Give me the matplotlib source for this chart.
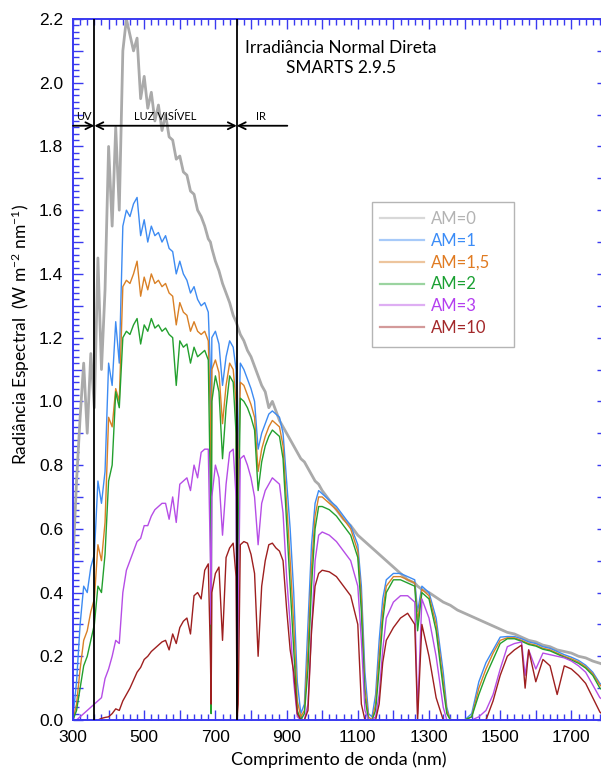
import matplotlib
matplotlib.use("Agg")
import matplotlib.pyplot as plt
from matplotlib.lines import Line2D
from matplotlib.patches import Rectangle
from matplotlib.ticker import MultipleLocator, FuncFormatter

# wavelength grid (nm), shared by every spectrum
wl = [300, 310, 320, 330, 340, 350, 360, 370, 380, 390,
      400, 410, 420, 430, 440, 450, 460, 470, 480, 490,
      500, 510, 520, 530, 540, 550, 560, 570, 580, 590,
      600, 610, 620, 630, 640, 650, 660, 670, 680, 686,
      688, 690, 700, 710, 720, 730, 740, 750, 758, 761,
      764, 770, 780, 790, 800, 810, 820, 830, 840, 850,
      860, 870, 880, 890, 900, 910, 920, 930, 940, 950,
      960, 970, 980, 990, 1000, 1020, 1040, 1060, 1080, 1100,
      1110, 1120, 1130, 1140, 1150, 1160, 1170, 1180, 1200, 1220,
      1240, 1260, 1268, 1280, 1300, 1320, 1340, 1350, 1360, 1380,
      1400, 1420, 1440, 1460, 1480, 1500, 1520, 1540, 1560, 1570,
      1580, 1600, 1620, 1640, 1660, 1680, 1700, 1720, 1740, 1760,
      1780, 1800]

am0 = [0.50, 0.75, 0.95, 1.12, 0.90, 1.15, 0.98, 1.45, 1.10, 1.35,
       1.80, 1.55, 1.86, 1.60, 2.10, 2.20, 2.15, 2.10, 2.14, 1.95,
       2.02, 1.92, 1.97, 1.88, 1.93, 1.85, 1.90, 1.83, 1.82, 1.76,
       1.77, 1.72, 1.71, 1.66, 1.65, 1.60, 1.58, 1.55, 1.51, 1.50,
       1.49, 1.48, 1.44, 1.41, 1.37, 1.34, 1.31, 1.27, 1.25, 1.24,
       1.23, 1.21, 1.19, 1.16, 1.14, 1.11, 1.08, 1.05, 1.03, 0.98,
       1.00, 0.97, 0.94, 0.92, 0.90, 0.88, 0.86, 0.84, 0.82, 0.81,
       0.79, 0.77, 0.75, 0.74, 0.72, 0.69, 0.66, 0.63, 0.61, 0.58,
       0.57, 0.56, 0.55, 0.54, 0.53, 0.52, 0.51, 0.50, 0.48, 0.46,
       0.44, 0.43, 0.42, 0.41, 0.40, 0.385, 0.37, 0.365, 0.36, 0.345,
       0.335, 0.325, 0.315, 0.305, 0.295, 0.285, 0.275, 0.27, 0.26, 0.255,
       0.25, 0.245, 0.235, 0.23, 0.22, 0.215, 0.21, 0.20, 0.195, 0.185,
       0.178, 0.17]

am1 = [0.01, 0.12, 0.30, 0.42, 0.40, 0.48, 0.52, 0.75, 0.68, 0.78,
       1.12, 1.05, 1.25, 1.12, 1.55, 1.60, 1.58, 1.62, 1.64, 1.52,
       1.57, 1.50, 1.55, 1.52, 1.53, 1.50, 1.52, 1.48, 1.47, 1.40,
       1.44, 1.40, 1.38, 1.34, 1.36, 1.32, 1.30, 1.31, 1.28, 1.10,
       0.80, 1.20, 1.22, 1.18, 1.05, 1.14, 1.19, 1.17, 1.10, 0.45,
       0.85, 1.12, 1.10, 1.07, 1.04, 1.00, 0.85, 0.90, 0.93, 0.96,
       0.97, 0.96, 0.95, 0.90, 0.75, 0.60, 0.40, 0.12, 0.02, 0.05,
       0.30, 0.55, 0.68, 0.72, 0.71, 0.69, 0.67, 0.64, 0.61, 0.55,
       0.42, 0.15, 0.02, 0.01, 0.08, 0.25, 0.38, 0.44, 0.46, 0.46,
       0.45, 0.44, 0.34, 0.42, 0.40, 0.32, 0.15, 0.04, 0.0, 0.0,
       0.0, 0.02, 0.12, 0.18, 0.22, 0.26, 0.262, 0.262, 0.255, 0.25,
       0.245, 0.24, 0.23, 0.225, 0.215, 0.205, 0.197, 0.187, 0.172, 0.15,
       0.115, 0.095]

am15 = [0.0, 0.05, 0.16, 0.25, 0.28, 0.34, 0.38, 0.55, 0.50, 0.62,
        0.95, 0.92, 1.04, 1.00, 1.36, 1.38, 1.37, 1.40, 1.44, 1.33,
        1.39, 1.35, 1.40, 1.37, 1.38, 1.36, 1.37, 1.34, 1.33, 1.24,
        1.31, 1.28, 1.27, 1.22, 1.25, 1.22, 1.21, 1.22, 1.19, 0.95,
        0.60, 1.10, 1.13, 1.09, 0.93, 1.05, 1.12, 1.10, 1.00, 0.30,
        0.72, 1.06, 1.05, 1.02, 0.99, 0.95, 0.78, 0.85, 0.89, 0.92,
        0.94, 0.93, 0.92, 0.86, 0.68, 0.50, 0.30, 0.06, 0.01, 0.03,
        0.22, 0.48, 0.64, 0.70, 0.70, 0.68, 0.66, 0.63, 0.60, 0.53,
        0.38, 0.10, 0.01, 0.0, 0.05, 0.20, 0.34, 0.42, 0.45, 0.45,
        0.44, 0.43, 0.31, 0.41, 0.39, 0.30, 0.12, 0.03, 0.0, 0.0,
        0.0, 0.01, 0.10, 0.16, 0.21, 0.25, 0.258, 0.258, 0.25, 0.245,
        0.24, 0.235, 0.225, 0.22, 0.21, 0.20, 0.192, 0.182, 0.167, 0.145,
        0.11, 0.09]

am2 = [0.0, 0.03, 0.10, 0.17, 0.20, 0.25, 0.30, 0.42, 0.40, 0.52,
       0.75, 0.80, 1.03, 0.98, 1.20, 1.22, 1.21, 1.24, 1.26, 1.18,
       1.24, 1.22, 1.26, 1.23, 1.24, 1.22, 1.23, 1.21, 1.20, 1.05,
       1.19, 1.17, 1.18, 1.12, 1.17, 1.14, 1.15, 1.16, 1.13, 0.70,
       0.02, 1.00, 1.08, 1.03, 0.82, 0.98, 1.08, 1.06, 0.90, 0.02,
       0.55, 1.01, 1.00, 0.98, 0.95, 0.91, 0.72, 0.81, 0.86, 0.89,
       0.91, 0.90, 0.89, 0.82, 0.62, 0.42, 0.22, 0.03, 0.0, 0.02,
       0.16, 0.42, 0.60, 0.67, 0.67, 0.66, 0.64, 0.61, 0.58, 0.51,
       0.34, 0.07, 0.0, 0.0, 0.03, 0.16, 0.31, 0.40, 0.44, 0.44,
       0.43, 0.42, 0.28, 0.40, 0.38, 0.28, 0.10, 0.02, 0.0, 0.0,
       0.0, 0.01, 0.08, 0.14, 0.19, 0.24, 0.255, 0.255, 0.247, 0.242,
       0.237, 0.232, 0.222, 0.217, 0.207, 0.197, 0.188, 0.178, 0.163, 0.14,
       0.10, 0.085]

am3 = [0.0, 0.0, 0.01, 0.02, 0.03, 0.04, 0.05, 0.06, 0.07, 0.13,
       0.16, 0.20, 0.25, 0.24, 0.40, 0.47, 0.50, 0.53, 0.56, 0.57,
       0.61, 0.61, 0.64, 0.66, 0.67, 0.68, 0.68, 0.63, 0.70, 0.62,
       0.74, 0.75, 0.76, 0.72, 0.80, 0.76, 0.84, 0.85, 0.85, 0.50,
       0.30, 0.70, 0.80, 0.76, 0.58, 0.74, 0.84, 0.85, 0.70, 0.0,
       0.30, 0.82, 0.83, 0.80, 0.76, 0.70, 0.55, 0.68, 0.72, 0.74,
       0.76, 0.75, 0.74, 0.65, 0.45, 0.30, 0.12, 0.01, 0.0, 0.0,
       0.05, 0.28, 0.50, 0.58, 0.59, 0.58, 0.56, 0.53, 0.50, 0.42,
       0.25, 0.03, 0.0, 0.0, 0.01, 0.08, 0.22, 0.32, 0.37, 0.39,
       0.39, 0.37, 0.02, 0.38, 0.32, 0.20, 0.04, 0.0, 0.0, 0.0,
       0.0, 0.0, 0.01, 0.03, 0.08, 0.16, 0.23, 0.24, 0.245, 0.14,
       0.22, 0.16, 0.21, 0.205, 0.20, 0.195, 0.185, 0.17, 0.15, 0.11,
       0.07, 0.055]

am10 = [0.0, 0.0, 0.0, 0.0, 0.0, 0.0, 0.0, 0.0, 0.005, 0.008,
        0.01, 0.02, 0.035, 0.03, 0.06, 0.08, 0.10, 0.125, 0.15, 0.165,
        0.19, 0.20, 0.215, 0.225, 0.235, 0.245, 0.25, 0.22, 0.27, 0.24,
        0.29, 0.31, 0.32, 0.27, 0.39, 0.40, 0.38, 0.47, 0.49, 0.20,
        0.05, 0.40, 0.46, 0.48, 0.25, 0.51, 0.54, 0.555, 0.45, 0.0,
        0.05, 0.55, 0.56, 0.555, 0.52, 0.46, 0.20, 0.42, 0.50, 0.55,
        0.555, 0.54, 0.53, 0.50, 0.35, 0.22, 0.15, 0.02, 0.0, 0.0,
        0.03, 0.28, 0.42, 0.46, 0.47, 0.465, 0.45, 0.42, 0.39, 0.30,
        0.05, 0.0, 0.0, 0.0, 0.0, 0.05, 0.18, 0.25, 0.29, 0.32,
        0.335, 0.30, 0.0, 0.30, 0.20, 0.07, 0.0, 0.0, 0.0, 0.0,
        0.0, 0.0, 0.0, 0.0, 0.06, 0.14, 0.20, 0.22, 0.235, 0.10,
        0.22, 0.12, 0.19, 0.17, 0.08, 0.17, 0.16, 0.14, 0.115, 0.07,
        0.025, 0.005]

labels = ["AM=0", "AM=1", "AM=1,5", "AM=2", "AM=3", "AM=10"]
series = [am0, am1, am15, am2, am3, am10]
line_colors = ["#aaaaaa", "#3d8bf2", "#d98026", "#23a02e", "#b64de6", "#9e1f1f"]
text_colors = ["#b3b3b3", "#3b8cf7", "#e07b22", "#1aa032", "#b43ef0", "#a3282a"]
widths = [2.0, 1.0, 1.0, 1.0, 1.0, 1.0]

# region limits (nm) and the arrow row
uv_edge = 360
ir_edge = 760
arrow_end = 902
arrow_y = 1.865

plt.rcParams["font.family"] = ["Liberation Sans", "DejaVu Sans"]
plt.rcParams["mathtext.fontset"] = "custom"
plt.rcParams["mathtext.rm"] = "Lato"
plt.rcParams["mathtext.it"] = "Lato:italic"
label_font = ["Lato", "DejaVu Sans"]
axis_blue = "#3a3af0"

fig = plt.figure(figsize=(6.01, 7.71), dpi=100)
ax = fig.add_axes([73 / 601, 51 / 771, 534 / 601, 701 / 771])

for vals, c, lw in zip(series, line_colors, widths):
    ax.plot(wl, vals, color=c, lw=lw, zorder=2)

ax.set_xlim(300, 1800)
ax.set_ylim(0, 2.2)

# region boundaries
ax.axvline(uv_edge, color="black", lw=1.3, zorder=5)
ax.axvline(ir_edge, color="black", lw=1.3, zorder=5)

arrow_kw = dict(color="black", lw=1.3, shrinkA=0, shrinkB=0)
ax.annotate("", xy=(uv_edge, arrow_y), xytext=(300, arrow_y),
            arrowprops=dict(arrowstyle="->,head_length=0.5,head_width=0.25", **arrow_kw), zorder=6)
ax.annotate("", xy=(ir_edge, arrow_y), xytext=(uv_edge, arrow_y),
            arrowprops=dict(arrowstyle="<->,head_length=0.5,head_width=0.25", **arrow_kw), zorder=6)
ax.annotate("", xy=(ir_edge, arrow_y), xytext=(arrow_end, arrow_y),
            arrowprops=dict(arrowstyle="->,head_length=0.5,head_width=0.25", **arrow_kw), zorder=6)
ax.text(331, arrow_y + 0.012, "UV", ha="center", va="bottom", fontsize=8, family=label_font)
ax.text(558, arrow_y + 0.012, "LUZ VISÍVEL", ha="center", va="bottom", fontsize=8, family=label_font)
ax.text(829, arrow_y + 0.012, "IR", ha="center", va="bottom", fontsize=8, family=label_font)

ax.text(1053, 2.078, "Irradiância Normal Direta\nSMARTS 2.9.5", ha="center", va="center",
        fontsize=12.4, family=label_font, linespacing=1.3)

# axis styling: blue frame, inward ticks on all sides
for s in ax.spines.values():
    s.set_color(axis_blue)
    s.set_linewidth(1.4)
ax.xaxis.set_major_locator(MultipleLocator(100))
ax.xaxis.set_minor_locator(MultipleLocator(20))
ax.yaxis.set_major_locator(MultipleLocator(0.1))
ax.yaxis.set_minor_locator(MultipleLocator(0.02))
ax.xaxis.set_major_formatter(FuncFormatter(lambda v, p: f"{v:.0f}" if round(v) % 200 == 100 else ""))
ax.yaxis.set_major_formatter(FuncFormatter(lambda v, p: f"{v:.1f}" if round(v * 10) % 2 == 0 else ""))
ax.tick_params(which="both", direction="in", color=axis_blue, top=True, right=True, labelsize=12.5)
ax.tick_params(which="major", length=7, width=1)
ax.tick_params(which="minor", length=4, width=1)
ax.tick_params(axis="x", pad=7)
ax.tick_params(axis="y", pad=7)

ax.set_xlabel("Comprimento de onda (nm)", fontsize=13, family=label_font)
ax.xaxis.set_label_coords(0.497, -0.045)
ax.set_ylabel("Radiância Espectral  (W m$^{-2}$ nm$^{-1}$)", fontsize=12.5, family=label_font)
ax.yaxis.set_label_coords(-0.077, 0.55)

handles = [Line2D([], [], color=c, lw=1.6, alpha=0.45) for c in line_colors]
leg = ax.legend(handles, labels, loc="upper left", bbox_to_anchor=(0.5615, 0.737),
                prop={"family": label_font, "size": 12}, frameon=False,
                handlelength=2.6, handletextpad=0.45,
                labelspacing=0.35, borderpad=0.45, borderaxespad=0)
for t, c in zip(leg.get_texts(), text_colors):
    t.set_color(c)
# legend box is wider than its entries
ax.add_patch(Rectangle((0.560, 0.532), 0.266, 0.207, transform=ax.transAxes,
                       facecolor="white", edgecolor="#b5b5b5", lw=1.0, zorder=4))
leg.set_zorder(7)

fig.savefig("out.png", dpi=100)
